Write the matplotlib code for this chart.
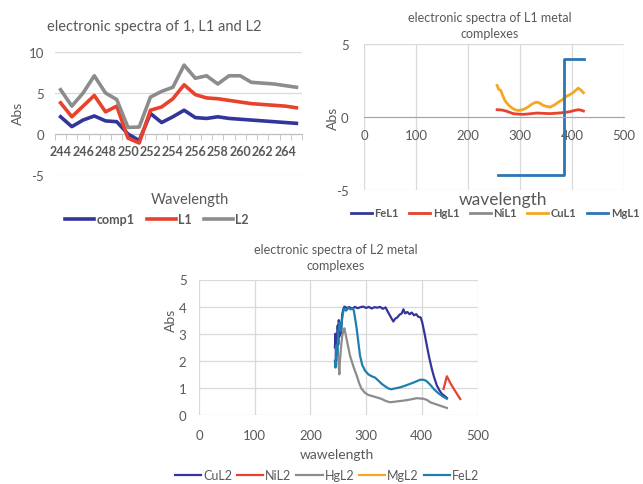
import numpy as np
import matplotlib.pyplot as plt


# Data ------------------------------------------------------------------

# chart 1 : comp1, L1, L2 (category axis)
Wave1 = list(range(244, 266))
Comp1 = [2.1, 0.9, 1.7, 2.2, 1.6, 1.5, 0.0, -0.8, 2.5, 1.4, 2.1, 2.9, 2.0, 1.9, 2.1, 1.9, 1.8, 1.7, 1.6, 1.5, 1.4, 1.3]
L1 = [3.8, 2.1, 3.4, 4.7, 2.7, 3.4, -0.5, -1.1, 2.9, 3.3, 4.3, 6.0, 4.8, 4.4, 4.3, 4.1, 3.9, 3.7, 3.6, 3.5, 3.4, 3.2]
L2 = [5.4, 3.4, 5.0, 7.1, 5.0, 4.2, 0.8, 0.85, 4.5, 5.2, 5.7, 8.4, 6.8, 7.1, 6.1, 7.1, 7.1, 6.3, 6.2, 6.1, 5.9, 5.7]

# chart 2 : L1 metal complexes
FeL1_X, FeL1_Y = [], []
NiL1_X, NiL1_Y = [], []
HgL1_X = [256, 265, 274, 287, 296, 306, 319, 332, 345, 358, 370, 383, 395, 405, 412, 417, 422]
HgL1_Y = [0.5, 0.48, 0.4, 0.23, 0.2, 0.18, 0.22, 0.27, 0.25, 0.23, 0.26, 0.3, 0.36, 0.45, 0.5, 0.47, 0.41]
CuL1_X = [256, 259, 263, 267, 271, 277, 284, 290, 297, 303, 310, 316, 322, 327, 332, 338, 345,
          352, 358, 366, 374, 382, 390, 397, 403, 408, 412, 417, 422]
CuL1_Y = [2.16, 1.9, 1.82, 1.45, 1.13, 0.85, 0.63, 0.5, 0.45, 0.48, 0.57, 0.7, 0.86, 0.96, 1.02, 0.95, 0.79,
          0.72, 0.68, 0.82, 1.02, 1.2, 1.43, 1.55, 1.7, 1.85, 1.98, 1.85, 1.66]
MgL1_X = [258, 384, 384, 423]
MgL1_Y = [-4, -4, 4, 4]

# chart 3 : L2 metal complexes
CuL2_X = [244, 245, 246, 247, 248, 249, 250, 251, 252, 253, 255, 257, 259, 261, 265, 270, 275, 280, 285,
          290, 295, 300, 305, 310, 315, 320, 325, 330, 335, 338, 342, 346, 349, 352, 356, 360, 364, 367,
          370, 374, 378, 382, 386, 390, 394, 398, 401, 405, 409, 413, 418, 422, 427, 432, 436, 441, 445]
CuL2_Y = [2.5, 3.0, 2.0, 2.9, 2.3, 3.3, 2.6, 3.5, 2.9, 3.4, 3.0, 3.7, 3.9, 4.0, 3.95, 3.98, 3.92, 3.99, 3.94,
          3.98, 4.0, 3.95, 3.99, 3.93, 3.98, 3.96, 3.99, 3.92, 3.97, 3.85, 3.7, 3.55, 3.45, 3.55, 3.6, 3.7, 3.75, 3.9,
          3.75, 3.8, 3.72, 3.78, 3.68, 3.72, 3.62, 3.6, 3.4, 3.0, 2.57, 2.15, 1.7, 1.4, 1.09, 0.9, 0.78, 0.7, 0.63]
NiL2_X = [439, 445, 452, 460, 469]
NiL2_Y = [0.96, 1.43, 1.15, 0.88, 0.59]
HgL2_X = [249, 250, 251, 252, 253, 255, 257, 259, 261, 263, 266, 271, 277, 283, 288, 292, 298, 304, 311,
          319, 327, 335, 343, 355, 367, 379, 391, 403, 410, 415, 425, 435, 445]
HgL2_Y = [2.4, 2.0, 1.8, 1.5, 2.0, 2.5, 2.9, 3.1, 3.2, 3.0, 2.7, 2.2, 1.8, 1.46, 1.15, 0.96, 0.82, 0.74, 0.7,
          0.65, 0.6, 0.52, 0.47, 0.5, 0.53, 0.57, 0.62, 0.6, 0.55, 0.47, 0.4, 0.33, 0.26]
MgL2_X, MgL2_Y = [], []
FeL2_X = [244, 245, 246, 247, 248, 250, 252, 253, 255, 256, 258, 260, 264, 268, 272, 276, 278, 280, 283,
          286, 289, 293, 298, 304, 310, 316, 322, 328, 334, 340, 345, 352, 361, 370, 379, 388, 397, 403,
          408, 415, 422, 430, 438, 445]
FeL2_Y = [2.0, 1.75, 2.3, 2.57, 2.2, 3.0, 3.4, 3.2, 3.1, 3.4, 3.7, 3.93, 3.85, 3.95, 3.9, 3.93, 3.85, 3.6, 3.2,
          2.7, 2.2, 1.85, 1.64, 1.5, 1.43, 1.38, 1.27, 1.15, 1.06, 0.98, 0.95, 0.98, 1.02, 1.08, 1.15, 1.22, 1.3, 1.3,
          1.26, 1.12, 0.95, 0.8, 0.68, 0.6]


# Plotting --------------------------------------------------------------

plt.rcParams["font.family"] = ["Lato", "DejaVu Sans"]
plt.rcParams["axes.unicode_minus"] = False
Text_Color = "#595959"
Grid_Color = "#D9D9D9"

Navy = "#34359A"
Red = "#E8412C"
Gray = "#8C8C8C"
Orange = "#F5A623"
Blue = "#2E75B6"
Teal = "#1E7FAE"

W, H = 643, 485


def Box(x0, y0, x1, y1):
    # pixel box (top-left, bottom-right) -> figure fraction
    return [x0 / W, 1 - y1 / H, (x1 - x0) / W, (y1 - y0) / H]


fig = plt.figure(figsize=(W / 100, H / 100), dpi=100)


# chart 1
ax1 = fig.add_axes(Box(55, 53, 302, 176))
X_Idx = np.arange(len(Wave1))

ax1.plot(X_Idx, Comp1, color=Navy, lw=2.6, label="comp1", zorder=3)
ax1.plot(X_Idx, L1, color=Red, lw=2.6, label="L1", zorder=3)
ax1.plot(X_Idx, L2, color=Gray, lw=2.6, label="L2", zorder=3)

ax1.set_xlim(-0.5, len(Wave1) - 0.5)
ax1.set_ylim(-5, 10)
ax1.set_yticks([-5, 0, 5, 10])
ax1.grid(axis="y", color=Grid_Color, lw=0.9)
ax1.set_axisbelow(True)
for s in ["left", "top", "right"]:
    ax1.spines[s].set_visible(False)
ax1.spines["bottom"].set_position(("data", 0))
ax1.spines["bottom"].set_color("#BFBFBF")
ax1.set_xticks(X_Idx[::2])
ax1.set_xticklabels([str(w) for w in Wave1[::2]], fontsize=9, fontweight="bold")
ax1.set_xticks(np.arange(-0.5, len(Wave1), 1), minor=True)
ax1.tick_params(axis="x", which="major", length=0, pad=8, colors=Text_Color)
ax1.tick_params(axis="x", which="minor", length=4, color="#BFBFBF")
ax1.tick_params(axis="y", length=0, pad=8, labelsize=9.5, colors=Text_Color)

fig.text(154 / W, 1 - 27 / H, "electronic spectra of 1, L1 and L2", ha="center", va="center",
         fontsize=10.5, color=Text_Color)
fig.text(18 / W, 1 - 113 / H, "Abs", rotation=90, ha="center", va="center", fontsize=10, color=Text_Color)
fig.text(190 / W, 1 - 200 / H, "Wavelength", ha="center", va="center", fontsize=10.5, color=Text_Color)
fig.legend(handles=ax1.get_lines(), loc="center", bbox_to_anchor=(157 / W, 1 - 220 / H), ncol=3,
           frameon=False, handlelength=2.3, handletextpad=0.2, columnspacing=1.0,
           labelcolor=Text_Color, prop={"weight": "bold", "size": 9})


# chart 2
ax2 = fig.add_axes(Box(364, 45, 624, 191))

ax2.plot(FeL1_X, FeL1_Y, color=Navy, lw=2, label="FeL1")
ax2.plot(HgL1_X, HgL1_Y, color=Red, lw=2, label="HgL1")
ax2.plot(NiL1_X, NiL1_Y, color=Gray, lw=2, label="NiL1")
ax2.plot(CuL1_X, CuL1_Y, color=Orange, lw=2, label="CuL1")
ax2.plot(MgL1_X, MgL1_Y, color=Blue, lw=2, label="MgL1")

ax2.set_xlim(0, 500)
ax2.set_ylim(-5, 5)
ax2.set_xticks(range(0, 501, 100))
ax2.set_yticks([-5, 0, 5])
ax2.grid(color=Grid_Color, lw=0.9)
ax2.set_axisbelow(True)
for s in ["left", "top", "right"]:
    ax2.spines[s].set_visible(False)
ax2.spines["bottom"].set_position(("data", 0))
ax2.spines["bottom"].set_color("#A6A6A6")
ax2.tick_params(axis="x", length=0, pad=9, labelsize=9.5, colors=Text_Color)
ax2.tick_params(axis="y", length=0, pad=11, labelsize=9.5, colors=Text_Color)

fig.text(490 / W, 1 - 26 / H, "electronic spectra of L1 metal\ncomplexes", ha="center", va="center",
         fontsize=9, color=Text_Color, linespacing=1.35)
fig.text(333 / W, 1 - 118 / H, "Abs", rotation=90, ha="center", va="center", fontsize=10, color=Text_Color)
fig.text(503 / W, 1 - 200 / H, "wavelength", ha="center", va="center", fontsize=12.5, color=Text_Color)
fig.legend(handles=ax2.get_lines(), loc="center", bbox_to_anchor=(495 / W, 1 - 214 / H), ncol=5,
           frameon=False, handlelength=1.9, handletextpad=0.25, columnspacing=0.9,
           labelcolor=Text_Color, prop={"weight": "bold", "size": 8})


# chart 3
ax3 = fig.add_axes(Box(199, 280.5, 477.5, 416))

ax3.plot(CuL2_X, CuL2_Y, color=Navy, lw=1.6, label="CuL2", zorder=3)
ax3.plot(NiL2_X, NiL2_Y, color=Red, lw=1.6, label="NiL2", zorder=3)
ax3.plot(HgL2_X, HgL2_Y, color=Gray, lw=1.6, label="HgL2", zorder=3)
ax3.plot(MgL2_X, MgL2_Y, color=Orange, lw=1.6, label="MgL2", zorder=3)
ax3.plot(FeL2_X, FeL2_Y, color=Teal, lw=1.6, label="FeL2", zorder=4)

ax3.set_xlim(0, 500)
ax3.set_ylim(0, 5)
ax3.set_xticks(range(0, 501, 100))
ax3.set_yticks(range(0, 6))
ax3.grid(color=Grid_Color, lw=0.9)
ax3.set_axisbelow(True)
for s in ["left", "top", "right", "bottom"]:
    ax3.spines[s].set_visible(False)
ax3.tick_params(axis="x", length=0, pad=10, labelsize=9.5, colors=Text_Color)
ax3.tick_params(axis="y", length=0, pad=9, labelsize=9.5, colors=Text_Color)

fig.text(336 / W, 1 - 258 / H, "electronic spectra of L2 metal\ncomplexes", ha="center", va="center",
         fontsize=9, color=Text_Color, linespacing=1.35)
fig.text(171 / W, 1 - 320 / H, "Abs", rotation=90, ha="center", va="center", fontsize=10, color=Text_Color)
fig.text(337 / W, 1 - 455 / H, "wawelength", ha="center", va="center", fontsize=10, color=Text_Color)
fig.legend(handles=ax3.get_lines(), loc="center", bbox_to_anchor=(327 / W, 1 - 476 / H), ncol=5,
           frameon=False, handlelength=2.1, handletextpad=0.15, columnspacing=0.4,
           labelcolor=Text_Color, prop={"size": 9})


plt.savefig("out.png", dpi=100)
